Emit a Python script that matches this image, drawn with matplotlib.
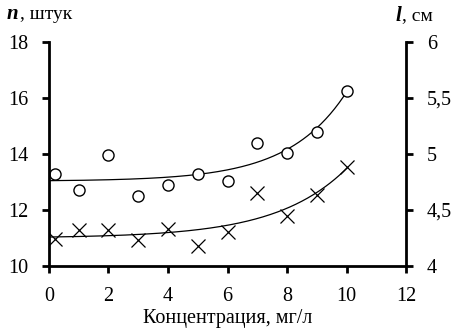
import numpy as np
import matplotlib
matplotlib.use("Agg")
import matplotlib.pyplot as plt

plt.rcParams['font.family'] = ['Liberation Serif', 'DejaVu Serif']

# concentration, mg/l
conc = [0.2, 1, 2, 3, 4, 5, 6, 7, 8, 9, 10]
# n, pieces (left axis, circles)
n_vals = [13.3, 12.7, 13.95, 12.5, 12.9, 13.3, 13.05, 14.4, 14.05, 14.8, 16.25]
# l, cm (right axis, crosses)
l_vals = [4.24, 4.32, 4.32, 4.23, 4.33, 4.18, 4.3, 4.65, 4.45, 4.63, 4.88]

x_ticks = [0, 2, 4, 6, 8, 10, 12]
n_ticks = [10, 12, 14, 16, 18]
l_ticks = [4, 4.5, 5, 5.5, 6]
l_tick_labels = ["4", "4,5", "5", "5,5", "6"]


def exp_trend(x, y, xs):
    # least squares fit of y = a + b*exp(c*x), grid search on c
    x = np.asarray(x)
    y = np.asarray(y)
    best = None
    for c in np.linspace(0.05, 1.5, 300):
        A = np.column_stack([np.ones_like(x), np.exp(c * x)])
        coef, res, _, _ = np.linalg.lstsq(A, y, rcond=None)
        err = np.sum((A @ coef - y) ** 2)
        if best is None or err < best[0]:
            best = (err, c, coef)
    _, c, (a, b) = best
    return a + b * np.exp(c * xs)


fig = plt.figure(figsize=(4.61, 3.28), dpi=100)
ax = fig.add_axes([0.106, 0.189, 0.775, 0.683])
ax2 = ax.twinx()

xs = np.linspace(0, 10, 200)
ax.plot(xs, exp_trend(conc, n_vals, xs), color="black", lw=0.9)
ax.plot(conc, n_vals, linestyle="none", marker="o", markersize=8,
        markerfacecolor="white", markeredgecolor="black", markeredgewidth=1.0)
ax2.plot(xs, exp_trend(conc, l_vals, xs), color="black", lw=0.9)
ax2.plot(conc, l_vals, linestyle="none", marker="x", markersize=10,
         color="black", markeredgewidth=0.9)

ax.set_xlim(0, 12)
ax.set_ylim(10, 18)
ax2.set_ylim(4, 6)
ax.set_xticks(x_ticks)
ax.set_yticks(n_ticks)
ax2.set_yticks(l_ticks)
ax2.set_yticklabels(l_tick_labels)

for a in (ax, ax2):
    a.spines["top"].set_visible(False)
    for s in ("left", "right", "bottom"):
        a.spines[s].set_linewidth(2)
    a.tick_params(direction="out", length=5, width=2, labelsize=14.5, pad=10)
ax.spines["right"].set_visible(False)
ax2.spines["left"].set_visible(False)
ax2.spines["bottom"].set_visible(False)

ax.set_xlabel("Концентрация, мг/л", fontsize=14.5, labelpad=2)
fig.text(0.015, 0.957, "n", fontsize=15, fontweight="bold", fontstyle="italic", va="center")
fig.text(0.043, 0.957, ", штук", fontsize=14, va="center")
fig.text(0.857, 0.952, "l", fontsize=15, fontweight="bold", fontstyle="italic", va="center")
fig.text(0.872, 0.952, ", см", fontsize=14, va="center")

fig.savefig("out.png", dpi=100)
